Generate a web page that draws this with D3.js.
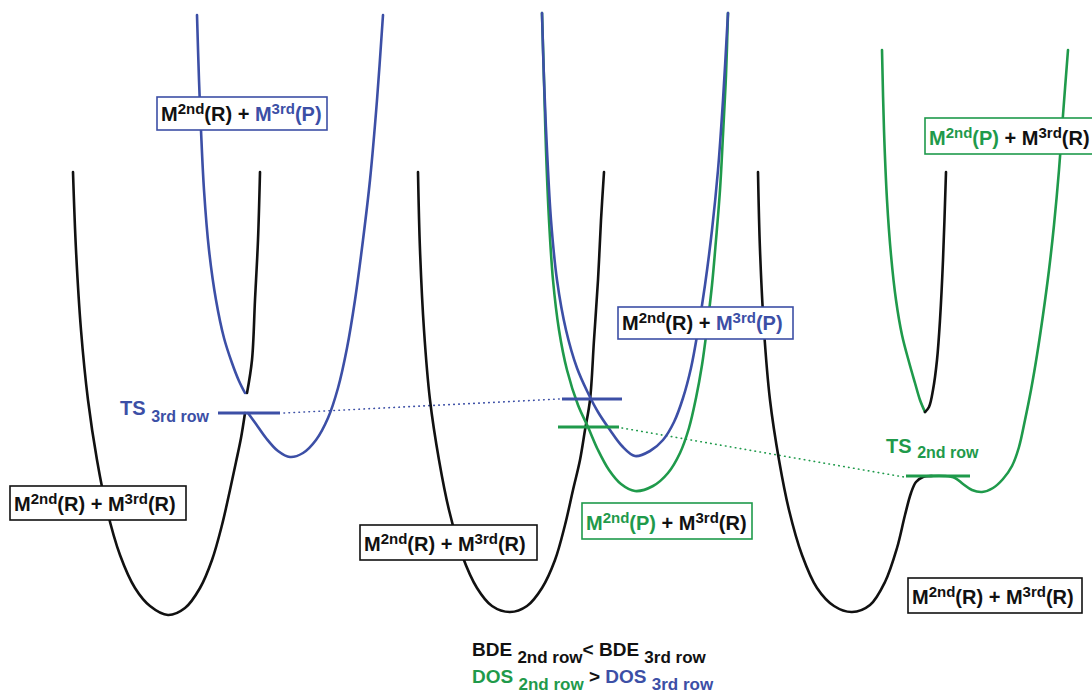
<!DOCTYPE html>
<html>
<head>
<meta charset="utf-8">
<script src="https://cdn.jsdelivr.net/npm/d3@7"></script>
<style>
  body { margin: 0; background: #fff; }
  text { font-family: "Liberation Sans", Arial, sans-serif; font-weight: bold; }
</style>
</head>
<body>
<div id="chart-area"></div>
<script>
// curve points: [reaction coordinate, energy (downwards)]
let black1Lower = [[73,172],[76,250],[81,330],[88,400],[97,460],[107,510],[120,555],[135,588],[150,606],[168,615],[185,608],[200,588],[212,560],[222,525],[230,490],[236,462],[241,438],[245,413]];
let black1Upper = [[247,393],[252,360],[255,300],[258,240],[260,172]];
let blue1Upper = [[197,15],[199,80],[201,130],[204,190],[209,250],[216,300],[224,338],[232,363],[239,381],[245,393]];
let blue1Lower = [[248,413],[256,424],[266,438],[278,451],[290,457],[303,453],[316,440],[328,418],[338,388],[347,348],[355,300],[363,240],[370,180],[377,100],[383,15]];

let black2 = [[418,172],[420,250],[424,330],[430,400],[439,460],[449,510],[462,555],[477,588],[492,606],[510,612],[527,606],[542,588],[555,560],[565,525],[573,490],[580,460],[585,430],[590,400],[594,340],[598,280],[601,220],[604,172]];
let blue2 = [[542,13],[544,80],[547,150],[551,220],[557,280],[566,330],[577,368],[588,393],[598,412],[610,430],[622,446],[635,456],[650,451],[663,440],[674,422],[683,398],[691,368],[698,330],[705,285],[712,230],[718,170],[723,100],[728,13]];
let green2 = [[542,13],[544,80],[546,150],[549,220],[553,280],[559,330],[567,370],[578,405],[588,427],[598,450],[609,470],[621,484],[635,491],[653,486],[668,473],[680,453],[689,428],[696,398],[702,365],[707,328],[712,285],[716,240],[720,190],[723,135],[726,75],[728,13]];

let black3Lower = [[758,172],[760,250],[764,330],[770,400],[779,460],[789,510],[802,555],[817,588],[834,606],[852,612],[870,605],[885,582],[897,548],[905,515],[911,493],[916,482],[923,477],[932,476]];
let green3Lower = [[930,476],[945,476],[955,478],[963,484],[972,490],[982,492],[993,488],[1003,479],[1012,466],[1019,447],[1025,420],[1031,390],[1037,355],[1043,315],[1049,270],[1054,225],[1059,170],[1063,115],[1068,50]];
let green3Upper = [[882,50],[884,130],[887,200],[891,255],[896,300],[902,335],[909,362],[915,383],[920,400],[925,412]];
let black3Upper = [[925,412],[929,407],[933,390],[937,360],[940,320],[943,260],[946,172]];

// transition-state levels
let tsLevels = [
    { color: 'blue', x0: 218, x1: 280, e: 413 },
    { color: 'blue', x0: 562, x1: 622, e: 399 },
    { color: 'green', x0: 558, x1: 619, e: 427 },
    { color: 'green', x0: 906, x1: 970, e: 476 }
];
// dotted links between transition states
let tsLinks = [
    { color: 'blue', from: [284, 413], to: [560, 399] },
    { color: 'green', from: [622, 428], to: [904, 477] }
];

// state labels: [text, colour, superscript?]
let stateLabels = [
    [['M','k'],['2nd','k',1],['(R) + ','k'],['M','b'],['3rd','b',1],['(P)','b']],
    [['M','k'],['2nd','k',1],['(R) + ','k'],['M','k'],['3rd','k',1],['(R)','k']],
    [['M','k'],['2nd','k',1],['(R) + ','k'],['M','b'],['3rd','b',1],['(P)','b']],
    [['M','k'],['2nd','k',1],['(R) + ','k'],['M','k'],['3rd','k',1],['(R)','k']],
    [['M','g'],['2nd','g',1],['(P)','g'],[' + M','k'],['3rd','k',1],['(R)','k']],
    [['M','g'],['2nd','g',1],['(P)','g'],[' + M','k'],['3rd','k',1],['(R)','k']],
    [['M','k'],['2nd','k',1],['(R) + ','k'],['M','k'],['3rd','k',1],['(R)','k']]
];

let colors = { k: '#111111', b: '#3c4fa6', g: '#1f9a4b', blue: '#3c4fa6', green: '#1f9a4b', black: '#111111' };

let width = 1092;
let height = 694;

var svg = d3.select('#chart-area')
    .append('svg')
    .attr('width', width)
    .attr('height', height);

var x = d3.scaleLinear().domain([0, 1092]).range([0, width]);
var y = d3.scaleLinear().domain([0, 694]).range([0, height]);

var line = d3.line()
    .x(function(d){ return x(d[0]); })
    .y(function(d){ return y(d[1]); })
    .curve(d3.curveCatmullRom.alpha(0.5));

var curves = [
    [black1Lower, 'black'], [black1Upper, 'black'], [blue1Upper, 'blue'], [blue1Lower, 'blue'],
    [black2, 'black'], [green2, 'green'], [blue2, 'blue'],
    [black3Lower, 'black'], [green3Lower, 'green'], [green3Upper, 'green'], [black3Upper, 'black']
];

// dotted links
svg.selectAll('.link')
    .data(tsLinks)
    .enter()
    .append('line')
    .attr('class', 'link')
    .attr('x1', function(d){ return x(d.from[0]); })
    .attr('y1', function(d){ return y(d.from[1]); })
    .attr('x2', function(d){ return x(d.to[0]); })
    .attr('y2', function(d){ return y(d.to[1]); })
    .attr('stroke', function(d){ return colors[d.color]; })
    .attr('stroke-width', 1.6)
    .attr('stroke-linecap', 'round')
    .attr('stroke-dasharray', '0.5,4.5');

svg.selectAll('.curve')
    .data(curves)
    .enter()
    .append('path')
    .attr('class', 'curve')
    .attr('d', function(d){ return line(d[0]); })
    .attr('fill', 'none')
    .attr('stroke', function(d){ return colors[d[1]]; })
    .attr('stroke-width', 2.6)
    .attr('stroke-linecap', 'round');

svg.selectAll('.ts')
    .data(tsLevels)
    .enter()
    .append('line')
    .attr('class', 'ts')
    .attr('x1', function(d){ return x(d.x0); })
    .attr('x2', function(d){ return x(d.x1); })
    .attr('y1', function(d){ return y(d.e); })
    .attr('y2', function(d){ return y(d.e); })
    .attr('stroke', function(d){ return colors[d.color]; })
    .attr('stroke-width', 2.8);

// label boxes (layout)
var boxes = [
    { x: 157, y: 97, w: 170, h: 33, border: 'blue' },
    { x: 10, y: 486, w: 176, h: 34, border: 'black' },
    { x: 618, y: 307, w: 175, h: 32, border: 'blue' },
    { x: 360, y: 525, w: 177, h: 35, border: 'black' },
    { x: 582, y: 503, w: 170, h: 36, border: 'green' },
    { x: 925, y: 118, w: 172, h: 36, border: 'green' },
    { x: 908, y: 578, w: 174, h: 35, border: 'black' }
];

boxes.forEach(function(b, i) {
    svg.append('rect')
        .attr('x', b.x).attr('y', b.y)
        .attr('width', b.w).attr('height', b.h)
        .attr('fill', '#fff')
        .attr('stroke', colors[b.border])
        .attr('stroke-width', 1.6);

    var t = svg.append('text')
        .attr('x', b.x + 4)
        .attr('y', b.y + b.h - 9)
        .attr('font-size', '20px');
    var prevSup = false;
    stateLabels[i].forEach(function(p) {
        var s = t.append('tspan')
            .attr('fill', colors[p[1]])
            .text(p[0]);
        if (p[2]) {
            s.attr('font-size', '15px').attr('dy', -7);
            prevSup = true;
        } else {
            s.attr('dy', prevSup ? 7 : 0);
            prevSup = false;
        }
    });
});

// TS labels and bottom summary: [text, colour, subscript?, dy]
function subText(px, py, parts, big, small) {
    var t = svg.append('text').attr('x', px).attr('y', py);
    parts.forEach(function(p) {
        t.append('tspan')
            .attr('fill', colors[p[1]])
            .attr('font-size', p[2] ? small : big)
            .attr('dy', p[3] || 0)
            .text(p[0]);
    });
}

subText(120, 415, [['TS ', 'b'], ['3rd row', 'b', 1, 7]], '20px', '16px');
subText(886, 453, [['TS ', 'g'], ['2nd row', 'g', 1, 5]], '20px', '16px');
subText(472, 656, [['BDE ', 'k'], ['2nd row', 'k', 1, 7], ['< ', 'k', 0, -7], ['BDE ', 'k'], ['3rd row', 'k', 1, 7]], '19px', '17px');
subText(472, 683, [['DOS ', 'g'], ['2nd row', 'g', 1, 7], [' > ', 'k', 0, -7], ['DOS ', 'b'], ['3rd row', 'b', 1, 7]], '19px', '17px');
</script>
</body>
</html>
